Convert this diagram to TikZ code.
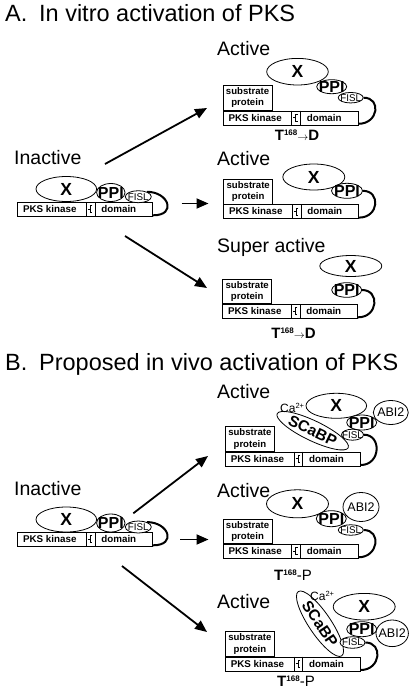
\documentclass[tikz,border=0pt]{standalone}
\usepackage{fontspec}
\setmainfont{Liberation Sans}
\usetikzlibrary{shapes.geometric,arrows.meta,calc}
\newcommand{\ctr}[1]{\makebox[0pt]{\raisebox{-.5\height}[0pt][0pt]{#1}}}
\newcommand{\fX}{\fontsize{17.5}{17.5}\selectfont\bfseries}
\newcommand{\fP}{\fontsize{16}{16}\selectfont\bfseries}
\newcommand{\fF}{\fontsize{9.8}{9.8}\selectfont}
\newcommand{\fAB}{\fontsize{12.5}{12.5}\selectfont}
\newcommand{\fS}{\fontsize{15.5}{15.5}\selectfont\bfseries}
\newcommand{\tD}{{\fontsize{15}{15}\selectfont\bfseries T\raisebox{5pt}{\fontsize{8}{8}\selectfont 168}{\fontsize{11}{11}\selectfont$\rightarrow$}D}}
\newcommand{\tP}{{\fontsize{15}{15}\selectfont{\bfseries T\raisebox{5pt}{\fontsize{8}{8}\selectfont 168}}-P}}
\newcommand{\caa}{{\fontsize{12}{12}\selectfont Ca\raisebox{4pt}{\fontsize{7.5}{7.5}\selectfont 2+}}}
\newcommand{\kbar}[3]{%
  \node[kbar, anchor=north west] (#1) at (#2,#3) {};
  \node[btext] (#1k) at ($(#2,#3)+(32.5,7)$) {PKS kinase};
  \node[btext] (#1d) at ($(#2,#3)+(101.5,7)$) {domain};
  \draw[line width=0.6pt] ($(#2,#3)+(69,0)$) -- ++(0,14) ($(#2,#3)+(77.5,0)$) -- ++(0,14);
  \draw[line width=0.5pt] ($(#2,#3)+(75,3.5)$) -- ++(-2,0) -- ++(0,7) -- ++(2,0)
        ($(#2,#3)+(70.5,7)$) -- ++(3,0);
}
\newcommand{\subbox}[3]{\node[sub, anchor=south west] (#1) at (#2,#3) {substrate\\protein};}
\begin{document}
\begin{tikzpicture}[x=1pt,y=-1pt,
  ell/.style={ellipse, draw, fill=white, line width=0.8pt, inner sep=0pt},
  kbar/.style={rectangle, draw, fill=white, minimum width=135pt, minimum height=14pt, inner sep=0pt, line width=0.8pt},
  btext/.style={inner sep=0pt, font=\fontsize{9.8}{10}\selectfont\bfseries},
  sub/.style={rectangle, draw, fill=white, minimum width=49pt, minimum height=24.5pt, inner sep=0pt, align=center, line width=0.8pt, font=\fontsize{9.6}{11.3}\selectfont\bfseries},
  lab/.style={inner sep=0pt, font=\fontsize{19.5}{20}\selectfont},
  hdr/.style={inner sep=0pt, font=\fontsize{23.5}{24}\selectfont},
  tl/.style={inner sep=0pt, anchor=base},
  link/.style={line width=2pt},
  arr/.style={line width=1.8pt, -{Triangle[length=12pt,width=10pt]}}]
\useasboundingbox[fill=white] (0,0) rectangle (416,694);

% headers
\node[hdr, anchor=base west] (hA) at (5,21) {A.\hspace{0.5em}In vitro activation of PKS};
\node[hdr, anchor=base west] (hB) at (5,370) {B.\hspace{0.5em}Proposed in vivo activation of PKS};

% ===== A: inactive =====
\node[lab, anchor=base west] (a0l) at (14,164) {Inactive};
\kbar{a0b}{17.3}{202}
\node[ell, minimum width=60.6pt, minimum height=25pt] (a0x) at (66.3,189) {\ctr{\fX X}};
\node[ell, minimum width=28.4pt, minimum height=18pt] (a0p) at (110.8,192.5) {\ctr{\fP PPI}};
\node[ell, minimum width=26pt, minimum height=12pt] (a0f) at (138.3,196.7) {\ctr{\fF FISL}};
\draw[link] (a0f.30) .. controls +(22,0) and +(24,0) .. ([yshift=1.5pt]a0b.south east);

% arrows A
\coordinate (aa1) at (105,164); \coordinate (ab1) at (207,108);
\coordinate (aa2) at (181.7,203.5); \coordinate (ab2) at (208.5,203.5);
\coordinate (aa3) at (125,236); \coordinate (ab3) at (207,288);
\draw[arr] (aa1) -- (ab1);
\draw[arr] (aa2) -- (ab2);
\draw[arr] (aa3) -- (ab3);

% ===== A1 Active =====
\node[lab, anchor=base west] (a1l) at (217,55) {Active};
\kbar{a1b}{222.7}{110.5}
\subbox{a1s}{222.7}{110.5}
\node[ell, minimum width=61.6pt, minimum height=26.6pt] (a1x) at (297.5,71.7) {\ctr{\fX X}};
\node[ell, minimum width=30pt, minimum height=14pt] (a1p) at (331.7,86.7) {\ctr{\fP PPI}};
\node[ell, minimum width=25pt, minimum height=10.5pt] (a1f) at (350.7,97.7) {\ctr{\fF FISL}};
\draw[link] (a1f.east) .. controls +(18,0) and +(20,0) .. ([yshift=1.5pt]a1b.south east);
\node[tl] (a1t) at (297,140) {\tD};

% ===== A2 Active =====
\node[lab, anchor=base west] (a2l) at (217,165) {Active};
\kbar{a2b}{223.3}{204.3}
\subbox{a2s}{223.3}{204.3}
\node[ell, minimum width=62pt, minimum height=26pt] (a2x) at (313.8,177) {\ctr{\fX X}};
\node[ell, minimum width=31pt, minimum height=15pt] (a2p) at (347,190.8) {\ctr{\fP PPI}};
\draw[link] (a2p.east) .. controls +(18,0) and +(20,0) .. ([yshift=1.5pt]a2b.south east);

% ===== A3 Super active =====
\node[lab, anchor=base west] (a3l) at (217,252) {Super active};
\kbar{a3b}{222.3}{304}
\subbox{a3s}{222.3}{304}
\node[ell, minimum width=62pt, minimum height=21pt] (a3x) at (350.8,266) {\ctr{\fX X}};
\node[ell, minimum width=30pt, minimum height=14.6pt] (a3p) at (346.7,290) {\ctr{\fP PPI}};
\draw[link] (a3p.east) .. controls +(18,0) and +(20,0) .. ([yshift=1.5pt]a3b.south east);
\node[tl] (a3t) at (293.5,338) {\tD};

% ===== B: inactive =====
\node[lab, anchor=base west] (b0l) at (14,495) {Inactive};
\kbar{b0b}{17.3}{532}
\node[ell, minimum width=60.6pt, minimum height=25pt] (b0x) at (66.3,519.5) {\ctr{\fX X}};
\node[ell, minimum width=28.4pt, minimum height=18pt] (b0p) at (110.8,523) {\ctr{\fP PPI}};
\node[ell, minimum width=26pt, minimum height=12pt] (b0f) at (138.3,527) {\ctr{\fF FISL}};
\draw[link] (b0f.30) .. controls +(22,0) and +(24,0) .. ([yshift=1.5pt]b0b.south east);

% arrows B
\coordinate (ba1) at (133.3,513.3); \coordinate (bb1) at (208,456);
\coordinate (ba2) at (180,539.5); \coordinate (bb2) at (208.5,539.5);
\coordinate (ba3) at (122,566); \coordinate (bb3) at (207,632);
\draw[arr] (ba1) -- (bb1);
\draw[arr] (ba2) -- (bb2);
\draw[arr] (ba3) -- (bb3);

% ===== B1 Active =====
\node[lab, anchor=base west] (b1l) at (217,398) {Active};
\kbar{b1b}{225}{451.7}
\subbox{b1s}{225}{451.7}
\node[ell, rotate=-25.6, minimum width=78.8pt, minimum height=20pt] (b1c) at (312.7,430.7) {\ctr{\fS SCaBP}};
\node[inner sep=0pt, anchor=base west] (b1ca) at (280,412.5) {\caa};
\node[ell, minimum width=60.6pt, minimum height=25pt] (b1x) at (336.3,405.8) {\ctr{\fX X}};
\node[ell, minimum width=35pt, minimum height=24pt] (b1a) at (390.8,412.5) {\ctr{\fAB ABI2}};
\node[ell, minimum width=30pt, minimum height=15pt] (b1p) at (361.7,422.5) {\ctr{\fP PPI}};
\node[ell, minimum width=22pt, minimum height=11pt] (b1f) at (352.5,434.7) {\ctr{\fF FISL}};
\draw[link] (b1f.east) .. controls +(18,0) and +(20,0) .. ([yshift=1.5pt]b1b.south east);

% ===== B2 Active =====
\node[lab, anchor=base west] (b2l) at (217,497) {Active};
\kbar{b2b}{222.7}{544}
\subbox{b2s}{222.7}{544}
\node[ell, minimum width=62pt, minimum height=28pt] (b2x) at (297.5,503.8) {\ctr{\fX X}};
\node[ell, minimum width=36pt, minimum height=29pt] (b2a) at (361,507) {\ctr{\fAB ABI2}};
\node[ell, minimum width=30pt, minimum height=16pt] (b2p) at (331.3,518.7) {\ctr{\fP PPI}};
\node[ell, minimum width=25pt, minimum height=10.5pt] (b2f) at (350.8,530) {\ctr{\fF FISL}};
\draw[link] (b2f.east) .. controls +(18,0) and +(20,0) .. ([yshift=1.5pt]b2b.south east);
\node[tl] (b2t) at (293,580) {\tP};

% ===== B3 Active =====
\node[lab, anchor=base west] (b3l) at (217,608) {Active};
\kbar{b3b}{225}{656.7}
\subbox{b3s}{225}{656.7}
\node[ell, rotate=-56, minimum width=77.6pt, minimum height=22pt] (b3c) at (320,623.7) {\ctr{\fS SCaBP}};
\node[inner sep=0pt, anchor=base west] (b3ca) at (310,600) {\caa};
\node[ell, minimum width=62pt, minimum height=26.6pt] (b3x) at (364.2,606.7) {\ctr{\fX X}};
\node[ell, minimum width=32.4pt, minimum height=26.6pt] (b3a) at (392.2,633.3) {\ctr{\fAB ABI2}};
\node[ell, minimum width=30pt, minimum height=15pt] (b3p) at (361.7,629.2) {\ctr{\fP PPI}};
\node[ell, minimum width=25pt, minimum height=11.6pt] (b3f) at (352.5,642.5) {\ctr{\fF FISL}};
\draw[link] (b3f.east) .. controls +(18,0) and +(20,0) .. ([yshift=1.5pt]b3b.south east);
\node[tl] (b3t) at (296,686.7) {\tP};
\end{tikzpicture}
\end{document}
